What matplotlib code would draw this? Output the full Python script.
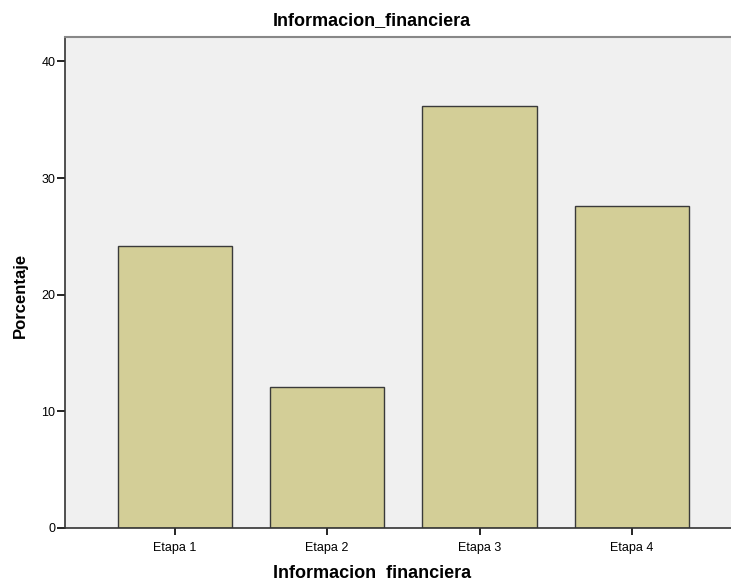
import matplotlib
matplotlib.use("Agg")
import matplotlib.pyplot as plt

# data (percentages)
etapas = ["Etapa 1", "Etapa 2", "Etapa 3", "Etapa 4"]
porcentaje = [24.14, 12.07, 36.21, 27.59]

plt.rcParams['font.family'] = ['Liberation Sans', 'DejaVu Sans']

fig = plt.figure(figsize=(7.31, 5.81), dpi=100)
ax = fig.add_axes([65 / 731, 53 / 581, 1 - 65 / 731, (528 - 37) / 581])

ax.set_facecolor('#f0f0f0')
x = range(len(etapas))
ax.bar(x, porcentaje, width=0.75, color='#d3ce97', edgecolor='#3a3a3a', linewidth=1.0, zorder=2)

ax.set_xlim(-0.72, 3.65)
ax.set_ylim(0, 42.1)
ax.set_yticks([0, 10, 20, 30, 40])
ax.set_xticks(list(x))
ax.set_xticklabels(etapas, fontsize=9)
ax.tick_params(axis='y', labelsize=9, length=6, width=1.2, pad=1)
ax.tick_params(axis='x', length=5, width=1.2, pad=5)

# spines
ax.spines['right'].set_visible(False)
ax.spines['top'].set_color('#888888')
ax.spines['top'].set_linewidth(1.5)
ax.spines['left'].set_color('#333333')
ax.spines['bottom'].set_color('#333333')
ax.spines['left'].set_linewidth(1.2)
ax.spines['bottom'].set_linewidth(1.2)

fig.text(372 / 731, 1 - 21 / 581, 'Informacion_financiera', ha='center', va='center',
         fontsize=13, fontweight='bold')
fig.text(372 / 731, 1 - 573 / 581, 'Informacion  financiera', ha='center', va='center',
         fontsize=13, fontweight='bold')
fig.text(20 / 731, 1 - 295 / 581, 'Porcentaje', ha='center', va='center',
         fontsize=12, fontweight='bold', rotation=90)

plt.savefig('out.png', dpi=100)
